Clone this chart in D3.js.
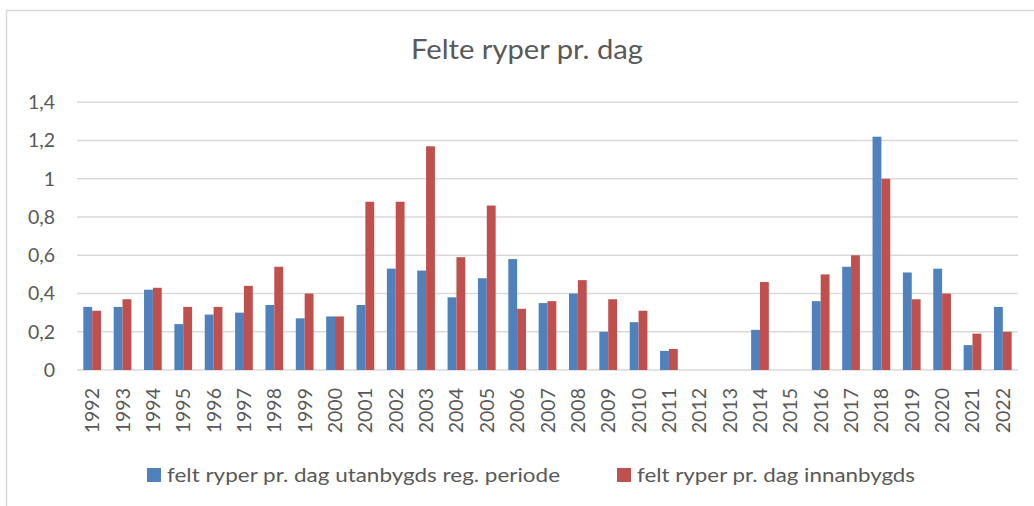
<!DOCTYPE html>
<html>
<head>
<meta charset="utf-8">
<script src="https://cdn.jsdelivr.net/npm/d3@7"></script>
<style>
    body { margin: 0; background: #fff; }
    svg { display: block; }
    text { font-family: Lato, "Liberation Sans", Arial, sans-serif; fill: #595959; }
</style>
</head>
<body>
<div id="chart"></div>
<script>
// chart data
var years = ["1992", "1993", "1994", "1995", "1996", "1997", "1998", "1999", "2000", "2001",
    "2002", "2003", "2004", "2005", "2006", "2007", "2008", "2009", "2010", "2011",
    "2012", "2013", "2014", "2015", "2016", "2017", "2018", "2019", "2020", "2021", "2022"];
var utanbygds = [0.33, 0.33, 0.42, 0.24, 0.29, 0.30, 0.34, 0.27, 0.28, 0.34,
    0.53, 0.52, 0.38, 0.48, 0.58, 0.35, 0.40, 0.20, 0.25, 0.10,
    null, null, 0.21, null, 0.36, 0.54, 1.22, 0.51, 0.53, 0.13, 0.33];
var innanbygds = [0.31, 0.37, 0.43, 0.33, 0.33, 0.44, 0.54, 0.40, 0.28, 0.88,
    0.88, 1.17, 0.59, 0.86, 0.32, 0.36, 0.47, 0.37, 0.31, 0.11,
    null, null, 0.46, null, 0.50, 0.60, 1.00, 0.37, 0.40, 0.19, 0.20];
var seriesNames = ["felt ryper pr. dag utanbygds reg. periode", "felt ryper pr. dag innanbygds"];
var seriesColors = ["#4f81bd", "#c0504d"];
var yTicks = [0, 0.2, 0.4, 0.6, 0.8, 1, 1.2, 1.4];
var title = "Felte ryper pr. dag";

var width = 1034, height = 506;
var fontFamily = "Lato, Liberation Sans, Arial, sans-serif";
var svg = d3.select("#chart").append("svg")
    .attr("width", width)
    .attr("height", height);

// chart frame (only top and left edges visible)
svg.append("line").attr("x1", 6).attr("x2", width).attr("y1", 10.5).attr("y2", 10.5)
    .attr("stroke", "#d9d9d9").attr("stroke-width", 1.5);
svg.append("line").attr("x1", 6.5).attr("x2", 6.5).attr("y1", 10).attr("y2", height)
    .attr("stroke", "#d9d9d9").attr("stroke-width", 1.5);

// scales
var x0 = d3.scaleBand().domain(years).range([77, 1018]).paddingInner(0.417).paddingOuter(0.2085);
var x1 = d3.scaleBand().domain([0, 1]).range([0, x0.bandwidth()]);
var y = d3.scaleLinear().domain([0, 1.4]).range([370, 102.3]);

var locale = d3.formatLocale({ decimal: ",", thousands: " ", grouping: [3], currency: ["", " kr"] });
var fmt = locale.format("~g");

// gridlines
svg.append("g").selectAll("line")
    .data(yTicks)
    .enter().append("line")
    .attr("x1", 77).attr("x2", 1018)
    .attr("y1", (d) => y(d)).attr("y2", (d) => y(d))
    .attr("stroke", "#d9d9d9").attr("stroke-width", 1.5);

// y axis labels
var yAxis = svg.append("g")
    .attr("transform", "translate(77,0)")
    .call(d3.axisLeft(y).tickValues(yTicks).tickFormat(fmt).tickSize(0).tickPadding(22));
yAxis.select(".domain").remove();
yAxis.selectAll("text").attr("font-size", 19.5).attr("fill", "#595959")
    .attr("font-family", fontFamily);

// bars
var series = [utanbygds, innanbygds];
series.forEach(function (vals, si) {
    svg.append("g").selectAll("rect")
        .data(years.map((yr, i) => ({ year: yr, value: vals[i] })).filter((d) => d.value != null))
        .enter().append("rect")
        .attr("x", (d) => x0(d.year) + x1(si))
        .attr("y", (d) => y(d.value))
        .attr("width", x1.bandwidth())
        .attr("height", (d) => y(0) - y(d.value))
        .attr("fill", seriesColors[si]);
});

// x axis labels
var xAxis = svg.append("g")
    .attr("transform", "translate(0,370)")
    .call(d3.axisBottom(x0).tickSize(0).tickPadding(0));
xAxis.select(".domain").remove();
xAxis.selectAll("text")
    .attr("font-size", 19.5).attr("fill", "#595959")
    .attr("font-family", fontFamily)
    .attr("text-anchor", "end")
    .attr("dy", null)
    .attr("y", 0)
    .attr("transform", "translate(7,18) rotate(-90)");

// title
svg.append("text")
    .attr("x", 527).attr("y", 59)
    .attr("text-anchor", "middle")
    .attr("font-size", 26)
    .attr("textLength", 232)
    .attr("lengthAdjust", "spacingAndGlyphs")
    .text(title);

// legend
var legendX = [147, 617];
var legendW = [393, 278];
seriesNames.forEach(function (name, i) {
    svg.append("rect")
        .attr("x", legendX[i]).attr("y", 468)
        .attr("width", 14).attr("height", 14)
        .attr("fill", seriesColors[i]);
    svg.append("text")
        .attr("x", legendX[i] + 20).attr("y", 482)
        .attr("font-size", 19.5)
        .attr("textLength", legendW[i])
        .attr("lengthAdjust", "spacingAndGlyphs")
        .text(name);
});
</script>
</body>
</html>
